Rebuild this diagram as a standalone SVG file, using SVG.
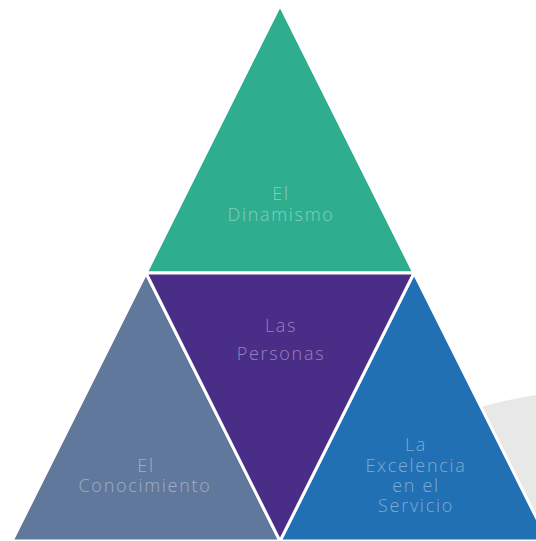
<svg xmlns="http://www.w3.org/2000/svg" width="536" height="541" viewBox="0 0 536 541">
<style>
.tri{stroke:#ffffff;stroke-width:3;stroke-linejoin:miter}
.lbl{font-family:"Open Sans","Liberation Sans",sans-serif;font-weight:300;font-size:18px;letter-spacing:1.7px;fill:#ffffff;fill-opacity:0.42;text-anchor:middle}
</style>
<rect width="536" height="541" fill="#ffffff"/>
<path id="bg-shape" d="M 440,420 Q 490,402 536,395 L 536,541 L 440,541 Z" fill="#e8e8e8"/>
<g id="dinamismo">
<polygon class="tri" points="280,5 414,273 146,273" fill="#2eae8f"/>
<text class="lbl" x="281" y="200">El</text>
<text class="lbl" x="281" y="221">Dinamismo</text>
</g>
<g id="conocimiento">
<polygon class="tri" points="146,273 280,541 12,541" fill="#60789b"/>
<text class="lbl" x="146" y="472">El</text>
<text class="lbl" x="145" y="492">Conocimiento</text>
</g>
<g id="servicio">
<polygon class="tri" points="414,273 548,541 280,541" fill="#2170b4"/>
<text class="lbl" x="416" y="451">La</text>
<text class="lbl" x="416" y="472">Excelencia</text>
<text class="lbl" x="416" y="492">en el</text>
<text class="lbl" x="416" y="512">Servicio</text>
</g>
<g id="personas">
<polygon class="tri" points="146,273 414,273 280,541" fill="#4a2d87"/>
<text class="lbl" x="281" y="332">Las</text>
<text class="lbl" x="281" y="360">Personas</text>
</g>
<g id="connectors"></g>
</svg>
